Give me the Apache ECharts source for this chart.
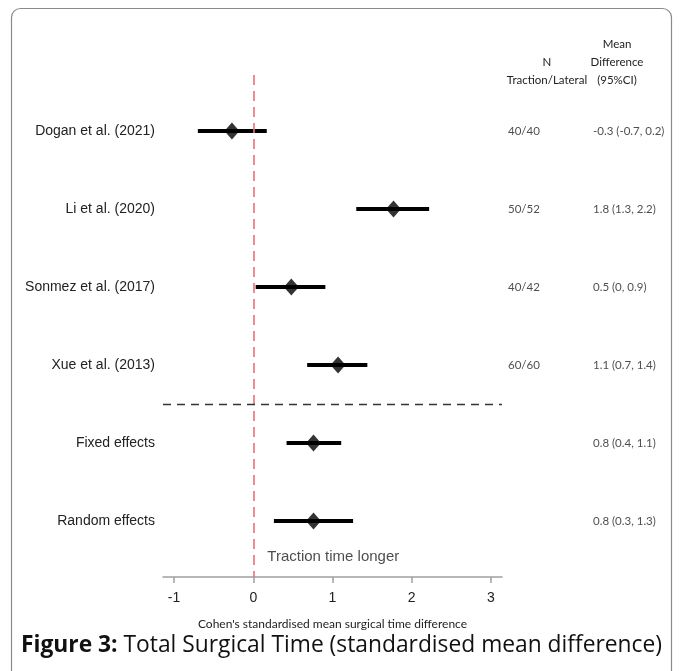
<!DOCTYPE html>
<html>
<head>
<meta charset="utf-8">
<script src="https://cdn.jsdelivr.net/npm/echarts@6/dist/echarts.min.js"></script>
<style>
  html, body { margin: 0; padding: 0; background: #fff; }
  #chart { width: 683px; height: 671px; }
</style>
</head>
<body>
<div id="chart"></div>
<script>
// Forest plot: standardised mean difference in total surgical time
const studies = ['Dogan et al. (2021)', 'Li et al. (2020)', 'Sonmez et al. (2017)', 'Xue et al. (2013)', 'Fixed effects', 'Random effects'];
const estimates = [-0.27, 1.77, 0.48, 1.07, 0.76, 0.76];
const lower = [-0.70, 1.30, 0.03, 0.68, 0.42, 0.26];
const upper = [0.17, 2.22, 0.91, 1.44, 1.11, 1.26];
const sampleSizes = ['40/40', '50/52', '40/42', '60/60', '', ''];
const xTicks = [-1, 0, 1, 2, 3];

const fmt = v => String(Number(v.toFixed(1)));
const ciText = studies.map((_, i) => fmt(estimates[i]) + ' (' + fmt(lower[i]) + ', ' + fmt(upper[i]) + ')');

const rowIdx = studies.map((_, i) => i);
const labelFont = 'Liberation Sans, Arial, sans-serif';
const smallFont = 'Lato, sans-serif';

const chart = echarts.init(document.getElementById('chart'));
chart.setOption({
  animation: false,
  backgroundColor: '#fff',
  title: {
    text: '{b|Figure 3:} Total Surgical Time (standardised mean difference)',
    left: 'center',
    top: 629,
    textStyle: {
      fontFamily: 'Open Sans, sans-serif', fontSize: 22.8, fontWeight: 'normal', color: '#111',
      rich: { b: { fontFamily: 'Open Sans, sans-serif', fontSize: 22.8, fontWeight: 'bold', color: '#111' } }
    }
  },
  graphic: [
    { type: 'rect', shape: { x: 11.5, y: 8.5, width: 660, height: 690, r: 9 }, style: { fill: 'none', stroke: '#8a8a8a', lineWidth: 1.2 }, silent: true },
    { type: 'text', x: 547, y: 62, style: { text: 'N', fontFamily: smallFont, fontSize: 11.5, fill: '#222', align: 'center', verticalAlign: 'middle' } },
    { type: 'text', x: 547, y: 80, style: { text: 'Traction/Lateral', fontFamily: smallFont, fontSize: 11.5, fill: '#222', align: 'center', verticalAlign: 'middle' } },
    { type: 'text', x: 617, y: 44, style: { text: 'Mean', fontFamily: smallFont, fontSize: 11.5, fill: '#222', align: 'center', verticalAlign: 'middle' } },
    { type: 'text', x: 617, y: 62, style: { text: 'Difference', fontFamily: smallFont, fontSize: 11.5, fill: '#222', align: 'center', verticalAlign: 'middle' } },
    { type: 'text', x: 617, y: 80, style: { text: '(95%CI)', fontFamily: smallFont, fontSize: 11.5, fill: '#222', align: 'center', verticalAlign: 'middle' } }
  ],
  grid: [
    { left: 163, right: 181, top: 75, bottom: 94 },
    { left: 502, right: 0, top: 75, bottom: 94 }
  ],
  xAxis: [
    {
      type: 'value', gridIndex: 0, min: -1.14, max: 3.14, position: 'bottom',
      splitLine: { show: false },
      axisLine: { show: true, onZero: false, lineStyle: { color: '#a0a0a0', width: 1.5 } },
      axisTick: { show: true, customValues: xTicks, length: 6, lineStyle: { color: '#a0a0a0', width: 1.5 } },
      axisLabel: { customValues: xTicks, fontFamily: labelFont, fontSize: 14, color: '#222', margin: 14 },
      name: "Cohen's standardised mean surgical time difference",
      nameLocation: 'middle', nameGap: 41,
      nameTextStyle: { fontFamily: smallFont, fontSize: 12, color: '#222' }
    },
    { type: 'value', gridIndex: 1, min: 0, max: 1, show: false }
  ],
  yAxis: [
    {
      type: 'value', gridIndex: 0, inverse: true, min: -0.72, max: 5.72,
      splitLine: { show: false }, axisLine: { show: false }, axisTick: { show: false },
      axisLabel: {
        customValues: rowIdx, formatter: v => studies[Math.round(v)] || '',
        fontFamily: labelFont, fontSize: 14, color: '#222', margin: 8
      }
    },
    { type: 'value', gridIndex: 1, inverse: true, min: -0.72, max: 5.72, show: false }
  ],
  series: [
    {
      // confidence interval whiskers
      type: 'custom', xAxisIndex: 0, yAxisIndex: 0,
      data: rowIdx.map(i => [lower[i], upper[i], i]),
      renderItem: (params, api) => {
        const a = api.coord([api.value(0), api.value(2)]);
        const b = api.coord([api.value(1), api.value(2)]);
        return { type: 'line', shape: { x1: a[0], y1: a[1], x2: b[0], y2: b[1] }, style: { stroke: '#000', lineWidth: 4 } };
      },
      z: 3,
      markLine: {
        silent: true, symbol: 'none', label: { show: false },
        data: [
          { xAxis: 0, lineStyle: { color: '#e8727c', type: [10, 6], width: 1.6 } },
          { yAxis: 3.5, lineStyle: { color: '#333', type: [8, 6], width: 1.3 } }
        ]
      }
    },
    {
      // point estimates
      type: 'scatter', xAxisIndex: 0, yAxisIndex: 0,
      symbol: 'diamond', symbolSize: [15, 17],
      itemStyle: { color: '#000' },
      data: rowIdx.map(i => [estimates[i], i]),
      z: 4
    },
    {
      // annotation under the plot
      type: 'scatter', xAxisIndex: 0, yAxisIndex: 0, symbolSize: 0, silent: true,
      data: [[0, 5.46]],
      label: { show: true, position: 'right', distance: 14, formatter: 'Traction time longer', fontFamily: labelFont, fontSize: 15, color: '#222' }
    },
    {
      // N column
      type: 'scatter', xAxisIndex: 1, yAxisIndex: 1, symbolSize: 0, silent: true,
      data: rowIdx.map(i => [0.033, i]),
      label: { show: true, position: 'right', distance: 0, formatter: p => sampleSizes[p.dataIndex], fontFamily: smallFont, fontSize: 11.5, color: '#222' }
    },
    {
      // mean difference (95% CI) column
      type: 'scatter', xAxisIndex: 1, yAxisIndex: 1, symbolSize: 0, silent: true,
      data: rowIdx.map(i => [0.503, i]),
      label: { show: true, position: 'right', distance: 0, formatter: p => ciText[p.dataIndex], fontFamily: smallFont, fontSize: 11.5, color: '#222' }
    }
  ]
});
</script>
</body>
</html>
